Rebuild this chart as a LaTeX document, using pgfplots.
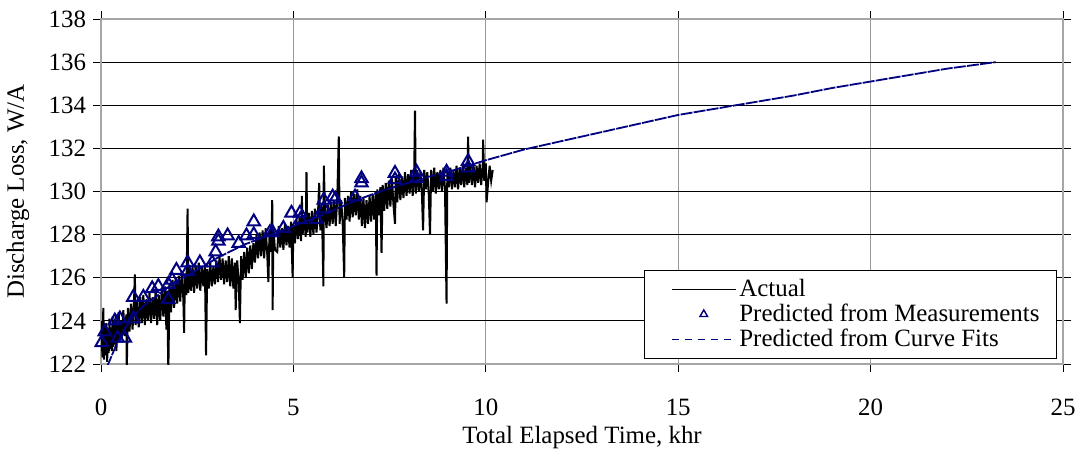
\documentclass[border=0pt]{standalone}
\usepackage{fontspec}
\setmainfont{Liberation Serif}
\usepackage{pgfplots}
\pgfplotsset{compat=1.18}
\definecolor{navyb}{RGB}{0,0,128}
\pgfplotsset{
  legthin/.style={legend image code/.code={\path (-6bp,0bp); \draw[##1, line width=0.5bp] (0bp,0bp) -- (32bp,0bp);}},
  legmark/.style={legend image code/.code={\path (-6bp,0bp); \draw[mark repeat=2,mark phase=2,##1,mark size=2.2bp,mark options={navyb, fill=white, line width=0.7bp}] plot coordinates {(0bp,0bp)(16bp,0bp)(32bp,0bp)};}},
  legdash/.style={legend image code/.code={\path (-6bp,0bp); \draw[##1, line width=0.6bp, dash pattern=on 3.5bp off 3bp] (0bp,0bp) -- (32bp,0bp);}},
}
\begin{document}
\begin{tikzpicture}
\begin{axis}[
  scale only axis, width=481bp, height=172.5bp,
  xmin=0, xmax=25, ymin=122, ymax=138,
  xtick={0,5,...,25}, ytick={122,124,...,138},
  tick align=outside, major tick length=4bp,
  tick style={black, line width=0.5bp},
  axis line style={gray!70, line width=0.6bp},
  grid=major,
  x grid style={gray!80, line width=0.6bp},
  y grid style={black, line width=0.6bp},
  /pgf/number format/assume math mode=true,
  ticklabel style={font=\fontsize{12.5}{14}\selectfont},
  xticklabel style={yshift=-10bp},
  label style={font=\fontsize{12.5}{14}\selectfont},
  xlabel={Total Elapsed Time, khr},
  ylabel={Discharge Loss, W/A},
  xlabel style={at={(axis description cs:0.5,0)}, anchor=center, yshift=-37bp},
  ylabel style={at={(axis description cs:-0.0863,0.5)}, anchor=center},
  legend style={at={(rel axis cs:0.9938,0.0145)}, anchor=south east, draw=black,
    line width=0.5bp, font=\fontsize{12.5}{13}\selectfont, inner xsep=7bp, inner ysep=3bp,
    row sep=-0.8bp, cells={anchor=west}, nodes={inner sep=1.5bp}},
]
\coordinate (sw) at (rel axis cs:0,0);
\coordinate (ne) at (rel axis cs:1,1);

% Actual
\addplot[black, line width=1bp, legthin] coordinates {
(0.00,122.6) (0.02,124.0) (0.04,122.3) (0.06,124.6) (0.08,122.2) (0.10,123.8) (0.12,122.4) (0.14,123.9)
(0.16,122.1) (0.18,123.6) (0.20,122.5) (0.22,124.1) (0.24,122.7) (0.26,123.7) (0.28,122.6) (0.30,124.2)
(0.32,122.8) (0.34,123.9) (0.36,122.9) (0.38,124.3) (0.40,122.6) (0.42,123.8) (0.44,123.0) (0.46,124.4)
(0.48,123.1) (0.50,124.0) (0.54,123.2) (0.58,124.5) (0.62,123.3) (0.66,124.3) (0.67,121.8) (0.70,124.6)
(0.74,123.5) (0.78,124.8) (0.82,123.6) (0.86,125.0) (0.88,126.15) (0.90,123.8) (0.94,124.9) (0.98,123.7)
(1.02,125.1) (1.06,123.9) (1.10,125.2) (1.14,123.8) (1.18,125.0) (1.22,124.0) (1.26,125.3) (1.30,123.9)
(1.34,125.1) (1.38,124.1) (1.42,125.4) (1.46,123.8) (1.50,125.2) (1.54,124.0) (1.58,125.5) (1.62,124.2)
(1.66,125.6) (1.70,123.6) (1.72,125.4) (1.75,121.7) (1.78,125.7) (1.82,124.4) (1.86,125.9) (1.90,124.6)
(1.94,126.0) (1.98,124.8) (2.02,126.1) (2.06,124.9) (2.10,126.3) (2.14,125.0) (2.16,123.45) (2.18,126.2)
(2.22,125.2) (2.25,129.2) (2.27,125.3) (2.30,126.6) (2.34,125.4) (2.38,126.5) (2.42,125.3) (2.46,126.6)
(2.50,125.5) (2.54,126.7) (2.58,125.4) (2.62,126.5) (2.66,125.6) (2.70,126.6) (2.73,122.4) (2.76,126.4)
(2.80,125.5) (2.84,126.7) (2.88,125.6) (2.92,126.5) (2.96,125.7) (3.00,126.8) (3.04,125.8) (3.08,127.0)
(3.12,125.9) (3.16,126.9) (3.20,125.7) (3.24,126.8) (3.28,125.8) (3.32,127.0) (3.36,125.6) (3.40,126.9)
(3.44,125.5) (3.48,126.7) (3.50,124.5) (3.54,126.8) (3.58,125.7) (3.61,123.9) (3.64,127.0) (3.68,125.9)
(3.72,127.2) (3.76,126.0) (3.80,127.4) (3.84,126.2) (3.88,127.5) (3.92,126.4) (3.96,127.6) (4.00,126.7)
(4.04,128.0) (4.08,126.9) (4.12,128.1) (4.16,127.0) (4.20,128.2) (4.24,126.9) (4.28,128.3) (4.32,127.1)
(4.35,125.8) (4.38,128.2) (4.42,127.2) (4.45,129.6) (4.46,124.5) (4.48,128.3) (4.52,127.3) (4.58,127.2)
(4.62,128.4) (4.66,127.4) (4.70,128.3) (4.74,127.3) (4.78,128.5) (4.82,127.5) (4.86,128.4) (4.90,127.4)
(4.94,128.6) (4.98,126.0) (5.00,128.5) (5.04,127.6) (5.08,128.7) (5.12,127.8) (5.16,128.8) (5.20,127.7)
(5.22,129.8) (5.24,128.0) (5.28,128.9) (5.32,127.9) (5.34,130.9) (5.36,128.1) (5.40,129.0) (5.44,127.9)
(5.48,129.1) (5.52,128.0) (5.56,129.2) (5.60,128.1) (5.64,129.0) (5.67,130.4) (5.70,128.2) (5.74,129.3)
(5.78,125.6) (5.79,131.2) (5.82,129.2) (5.86,128.3) (5.90,129.4) (5.94,128.4) (5.98,129.5) (6.02,128.5)
(6.06,129.6) (6.10,128.4) (6.14,129.7) (6.18,132.55) (6.20,128.5) (6.24,129.6) (6.28,128.6) (6.32,126.0)
(6.34,129.7) (6.38,128.7) (6.42,129.8) (6.46,128.6) (6.50,130.0) (6.54,128.8) (6.58,129.9) (6.62,128.9)
(6.66,130.1) (6.70,128.7) (6.74,129.8) (6.78,128.4) (6.82,129.7) (6.86,128.3) (6.90,129.6) (6.94,128.5)
(6.98,129.8) (7.02,128.6) (7.06,129.9) (7.10,128.7) (7.14,130.0) (7.16,126.1) (7.18,130.1) (7.22,128.9)
(7.26,130.2) (7.29,127.15) (7.32,130.3) (7.36,129.1) (7.40,130.4) (7.44,129.2) (7.48,130.5) (7.52,129.3)
(7.56,130.6) (7.60,129.4) (7.64,128.5) (7.66,130.7) (7.70,129.5) (7.74,130.8) (7.78,129.6) (7.82,130.7)
(7.86,129.7) (7.90,130.9) (7.94,129.8) (7.98,130.8) (8.02,129.9) (8.06,131.0) (8.10,129.8) (8.14,130.9)
(8.16,133.75) (8.18,129.9) (8.22,131.0) (8.26,130.0) (8.30,130.9) (8.34,129.9) (8.37,128.2) (8.40,131.0)
(8.44,130.1) (8.48,130.9) (8.52,129.8) (8.55,128.0) (8.58,131.0) (8.62,130.0) (8.66,131.1) (8.70,129.9)
(8.74,130.9) (8.78,130.1) (8.82,131.0) (8.86,130.0) (8.90,131.1) (8.94,130.1) (8.98,124.8) (9.00,131.0)
(9.04,130.2) (9.08,131.1) (9.12,130.1) (9.16,131.0) (9.20,130.2) (9.24,131.2) (9.28,130.1) (9.32,131.1)
(9.36,130.3) (9.40,131.2) (9.44,130.2) (9.48,131.1) (9.52,130.3) (9.54,132.55) (9.56,130.4) (9.60,131.2)
(9.64,130.3) (9.68,131.3) (9.72,130.2) (9.76,131.2) (9.80,130.4) (9.84,131.3) (9.88,130.3) (9.92,131.2)
(9.93,132.4) (9.96,130.5) (10.00,131.3) (10.02,129.5) (10.06,130.4) (10.10,131.2) (10.14,130.5) (10.18,131.0)
};
\addlegendentry{Actual}

% Predicted from measurements
\addplot[only marks, mark=triangle, mark size=3.6bp,
  mark options={navyb, fill=white, line width=1bp}, legmark]
coordinates {
(0.02,123.0) (0.10,123.5) (0.36,124.0) (0.49,124.1) (0.43,123.2) (0.62,123.2) (0.84,124.1) (0.84,125.1)
(1.10,125.1) (1.33,125.5) (1.49,125.6) (1.75,125.0) (1.75,125.7) (1.85,125.9) (1.96,126.35) (2.25,126.3)
(2.25,126.7) (2.57,126.7) (2.89,126.7) (2.98,127.2) (3.05,127.7) (3.05,127.9) (3.29,127.95) (3.58,127.6)
(3.78,127.95) (3.97,128.0) (3.97,128.6) (4.39,128.1) (4.46,128.1) (4.74,128.3) (4.95,129.0) (5.17,129.0)
(5.18,128.7) (5.60,128.7) (5.79,129.6) (5.79,129.2) (6.02,129.75) (6.09,129.65) (6.60,129.75) (6.77,130.6)
(6.77,130.4) (7.64,130.85) (7.64,130.55) (8.20,130.9) (8.20,130.6) (8.98,130.9) (8.98,130.7) (9.54,131.4)
(9.54,131.1)
};
\addlegendentry{Predicted from Measurements}

% Predicted from curve fits
\addplot[navyb, line width=0.9bp, dash pattern=on 6bp off 0.6bp, legdash]
coordinates {
(0.15,121.85) (0.2,122.05) (0.4,122.9) (0.6,123.6) (0.84,124.2) (1.1,124.7) (1.45,125.15) (1.92,125.8)
(2.44,126.3) (3.05,126.95) (3.74,127.55) (4.5,128.05) (5.6,128.8) (6.64,129.6) (7.33,130.05) (8.55,130.7)
(9.0,130.9) (10.0,131.45) (11.0,131.95) (12.0,132.35) (13.0,132.75) (14.0,133.15) (15.0,133.55)
(16.0,133.85) (17.0,134.15) (18.0,134.45) (19.0,134.8) (20.0,135.1) (21.0,135.4) (22.0,135.7) (23.25,136.0)
};
\addlegendentry{Predicted from Curve Fits}
\end{axis}
\pgfresetboundingbox
\path[use as bounding box] ([xshift=-50.5bp,yshift=-46bp]sw) rectangle ([xshift=9.5bp,yshift=9.5bp]ne);
\end{tikzpicture}
\end{document}
